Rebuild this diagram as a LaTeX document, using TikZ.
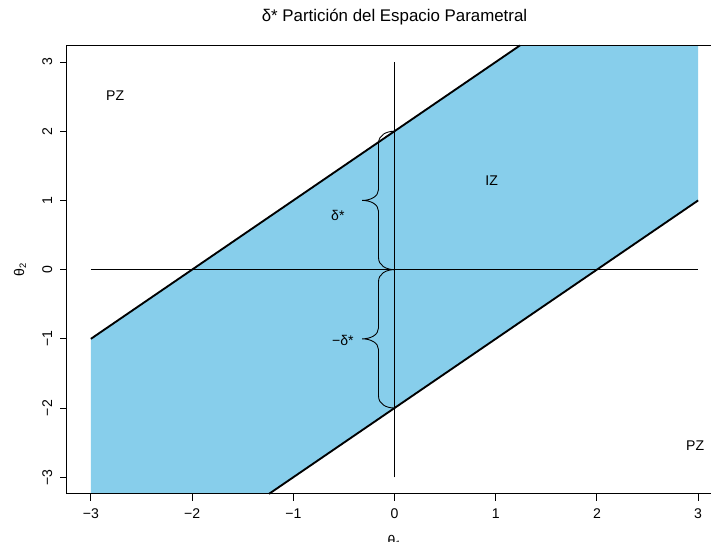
\documentclass[tikz,border=0pt]{standalone}
\usepackage{fontspec}
\setmainfont{Liberation Sans}
\definecolor{celeste}{HTML}{87CEEB}
\begin{document}
\begin{tikzpicture}[x=3.036cm, y=2.076cm, font=\fontsize{12}{14}\selectfont,
    linea/.style={line width=1.6pt},
    fina/.style={line width=0.75pt},
    texto/.style={anchor=base, inner sep=0pt},
    llave/.pic={
        \draw[fina] (0cm,0cm) .. controls (-0.25cm,0cm) and (-0.48cm,-0.12cm) .. (-0.48cm,-0.36cm)
            -- (-0.48cm,-1.75cm) .. controls (-0.48cm,-1.96cm) and (-0.72cm,-2.076cm) .. (-0.97cm,-2.076cm)
            .. controls (-0.72cm,-2.076cm) and (-0.48cm,-2.19cm) .. (-0.48cm,-2.40cm)
            -- (-0.48cm,-3.79cm) .. controls (-0.48cm,-4.03cm) and (-0.25cm,-4.152cm) .. (0cm,-4.152cm);
    }]
    \useasboundingbox (-3.898,-3.922) rectangle (3.127,3.896);
    % Zona de indiferencia
    \fill[celeste] (-3,-1) -- (1.24,3.24) -- (3,3.24) -- (3,1) -- (-1.24,-3.24) -- (-3,-3.24) -- cycle;
    \draw[linea] (-3,-1) -- (1.24,3.24);
    \draw[linea] (-1.24,-3.24) -- (3,1);
    % Ejes
    \coordinate (origen) at (0,0);
    \coordinate (arriba) at (0,2);
    \draw[fina] (-3,0) -- (3,0);
    \draw[fina] (0,-3) -- (0,3);
    % Marco y marcas
    \draw[fina] (3.127,3.24) -- (-3.24,3.24) -- (-3.24,-3.24) -- (3.127,-3.24);
    \foreach \t/\s in {-3/−3,-2/−2,-1/−1,0/0,1/1,2/2,3/3} {
        \draw[fina] (\t,-3.24) -- ++(0,-0.2cm);
        \node[texto] at (\t,-3.59) {\s};
        \draw[fina] (-3.24,\t) -- ++(-0.2cm,0);
        \node[texto, rotate=90] at (-3.384,\t) {\s};
    }
    % Llaves
    \pic at (arriba) {llave};
    \pic at (origen) {llave};
    \node[texto] (delta) at (-0.56,0.717) {δ*};
    \node[texto] (mdelta) at (-0.51,-1.09) {−δ*};
    % Zonas
    \node[texto] (pz1) at (-2.76,2.45) {PZ};
    \node[texto] (iz) at (0.96,1.22) {IZ};
    \node[texto] (pz2) at (2.97,-2.62) {PZ};
    % Titulo y ejes
    \node[texto, font=\fontsize{14.4}{17}\selectfont] (titulo) at (0,3.585) {δ* Partición del Espacio Parametral};
    \node[texto] (theta1) at (0,-3.98) {θ\textsubscript{1}};
    \node[texto, rotate=90] (theta2) at (-3.66,0) {θ\textsubscript{2}};
\end{tikzpicture}
\end{document}
